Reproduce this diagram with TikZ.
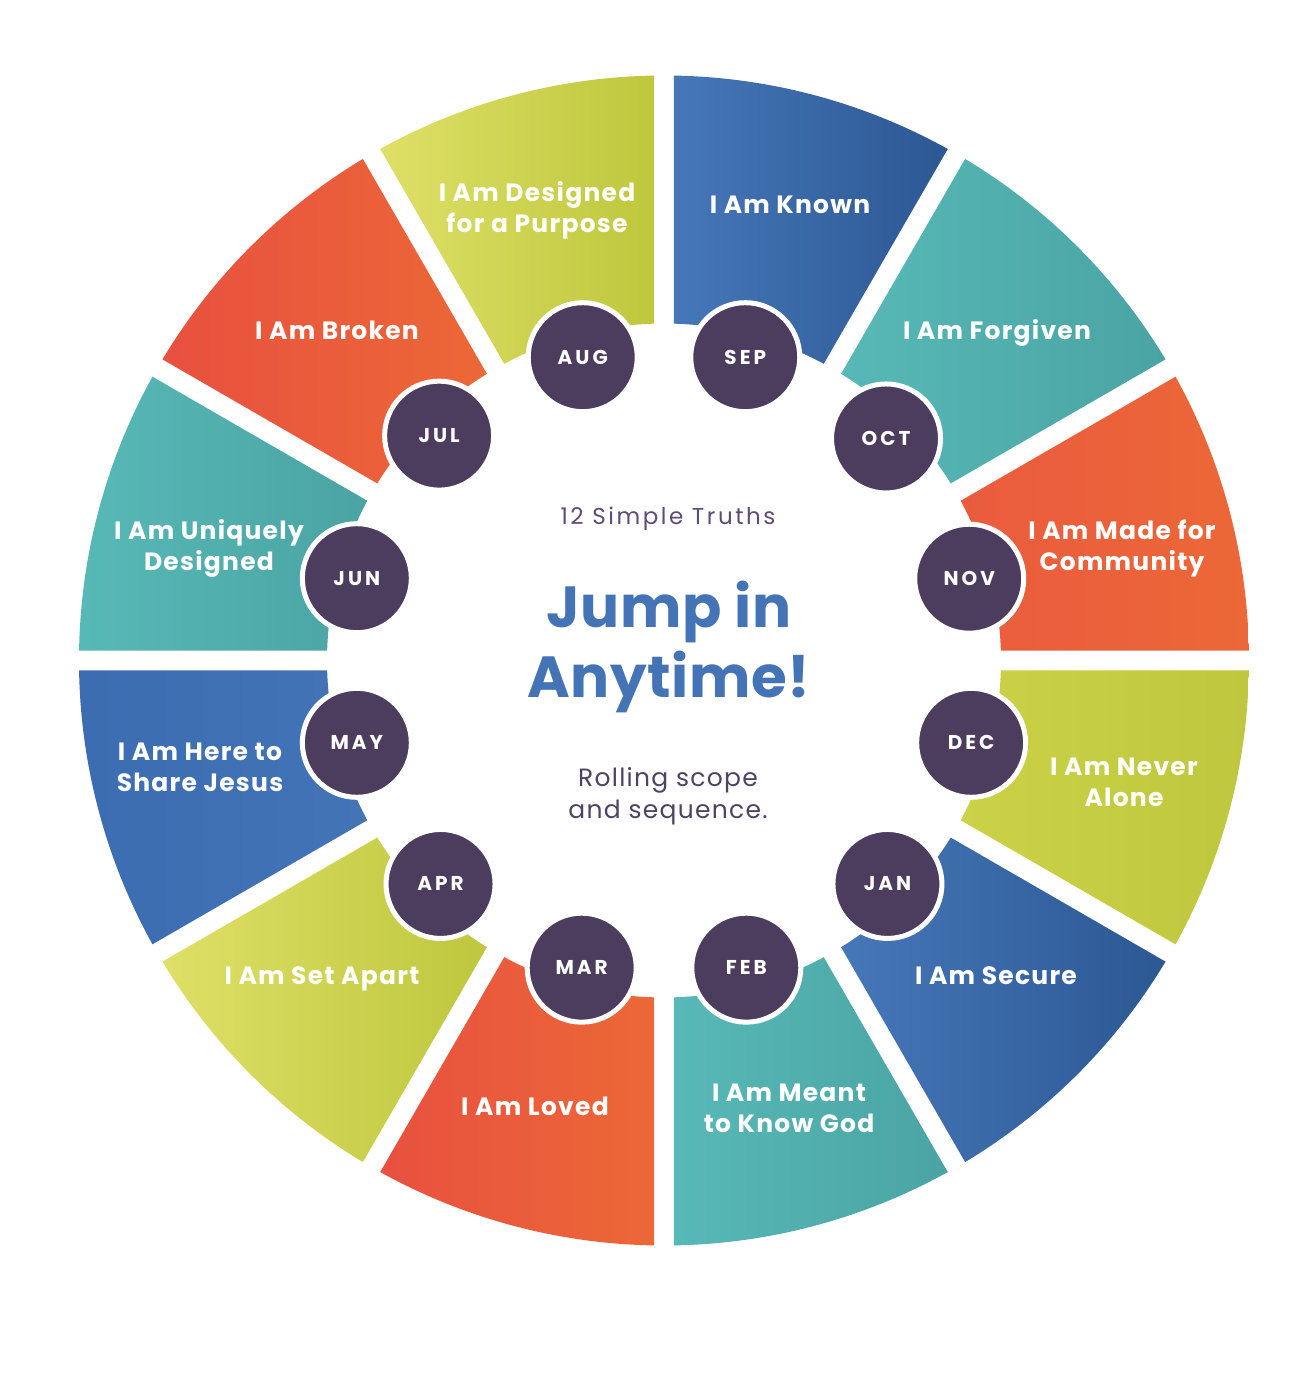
\documentclass[tikz,border=0pt]{standalone}
\usepackage{fontspec}
\newfontfamily\segfont{Poppins}[LetterSpace=5]
\newfontfamily\monfont{Poppins}[LetterSpace=15]
\newfontfamily\titlefont{Poppins}[LetterSpace=1]
\newfontfamily\truthfont{Poppins}[LetterSpace=11]
\newfontfamily\rollfont{Poppins}[LetterSpace=5]
\definecolor{monthc}{HTML}{4C3D5F}
\definecolor{titleblue}{HTML}{4474B6}
\definecolor{truthc}{HTML}{5E4B7A}
\definecolor{rollc}{HTML}{504262}
\definecolor{blueL}{HTML}{4677B9}
\definecolor{blueR}{HTML}{2C5893}
\definecolor{blueM}{HTML}{3C6CB1}
\definecolor{blueN}{HTML}{4274B6}
\definecolor{tealL}{HTML}{57B9B7}
\definecolor{tealR}{HTML}{4AA4A3}
\definecolor{orL}{HTML}{E8503F}
\definecolor{orR}{HTML}{EC6837}
\definecolor{orN}{HTML}{EA5B3E}
\definecolor{limeL}{HTML}{DEE067}
\definecolor{limeR}{HTML}{BEC73D}
\definecolor{limeM}{HTML}{CBD247}
\newcommand\wheelseg[3]{%
  \pgfmathsetmacro\aA{#1+0.979}%
  \pgfmathsetmacro\aB{#1+30-0.979}%
  \pgfmathsetmacro\aC{#1+30-1.70}%
  \pgfmathsetmacro\aD{#1+1.70}%
  \path[left color=#2, right color=#3] (\aD:337) -- (\aA:585)
    arc[start angle=\aA, end angle=\aB, radius=585] -- (\aC:337)
    arc[start angle=\aC, end angle=\aD, radius=337] -- cycle;
}
\begin{document}
\begin{tikzpicture}[x=1pt,y=1pt,
  month/.style={circle, fill=monthc, draw=white, line width=5pt,
    minimum size=109pt, inner sep=0pt, text=white,
    font=\monfont\bfseries\fontsize{20}{20}\selectfont},
  seglabel/.style={anchor=base, text=white, inner sep=0pt,
    font=\segfont\bfseries\fontsize{25}{31}\selectfont}]
\useasboundingbox (-664,-723.5) rectangle (648,660.5);
% segments
\wheelseg{60}{blueL}{blueR}
\wheelseg{30}{tealL}{tealR}
\wheelseg{0}{orN}{orR}
\wheelseg{-30}{limeM}{limeR}
\wheelseg{-60}{blueL}{blueR}
\wheelseg{-90}{tealL}{tealR}
\wheelseg{-120}{orL}{orR}
\wheelseg{-150}{limeL}{limeR}
\wheelseg{180}{blueM}{blueN}
\wheelseg{150}{tealL}{tealR}
\wheelseg{120}{orL}{orR}
\wheelseg{90}{limeL}{limeR}
% month circles
\node[month] (sep) at (75:314) {SEP};
\node[month] (oct) at (45:314) {OCT};
\node[month] (nov) at (15:316) {NOV};
\node[month] (dec) at (-15:318) {DEC};
\node[month] (jan) at (-45:316) {JAN};
\node[month] (feb) at (-75:318) {FEB};
\node[month] (mar) at (-105:318) {MAR};
\node[month] (apr) at (-135:316) {APR};
\node[month] (may) at (-165:318) {MAY};
\node[month] (jun) at (165:318) {JUN};
\node[month] (jul) at (135:318) {JUL};
\node[month] (aug) at (105:314) {AUG};
% segment labels
\node[seglabel] (tsep) at (126,446.5) {I Am Known};
\node[seglabel] (taug) at (-127,458.5) {\begin{tabular}[t]{@{}c@{}}I Am Designed\\for a Purpose\end{tabular}};
\node[seglabel] (toct) at (333,320.5) {I Am Forgiven};
\node[seglabel] (tjul) at (-327,320.5) {I Am Broken};
\node[seglabel] (tnov) at (458,120.5) {\begin{tabular}[t]{@{}c@{}}I Am Made for\\Community\end{tabular}};
\node[seglabel] (tjun) at (-455,120.5) {\begin{tabular}[t]{@{}c@{}}I Am Uniquely\\Designed\end{tabular}};
\node[seglabel] (tmay) at (-464,-99.5) {\begin{tabular}[t]{@{}c@{}}I Am Here to\\Share Jesus\end{tabular}};
\node[seglabel] (tdec) at (460,-114.5) {\begin{tabular}[t]{@{}c@{}}I Am Never\\Alone\end{tabular}};
\node[seglabel] (tjan) at (332,-323.5) {I Am Secure};
\node[seglabel] (tapr) at (-342,-323.5) {I Am Set Apart};
\node[seglabel] (tfeb) at (125,-441) {\begin{tabular}[t]{@{}c@{}}I Am Meant\\to Know God\end{tabular}};
\node[seglabel] (tmar) at (-129,-454.5) {I Am Loved};
% centre texts
\node[anchor=base, text=truthc, inner sep=0pt, font=\truthfont\fontsize{23}{23}\selectfont] (truths) at (4,135.5) {12 Simple Truths};
\node[anchor=base, text=titleblue, inner sep=0pt, font=\titlefont\bfseries\fontsize{58}{70}\selectfont] (jump) at (5,33.5) {Jump in};
\node[anchor=base, text=titleblue, inner sep=0pt, font=\titlefont\bfseries\fontsize{58}{70}\selectfont] (anytime) at (5,-36.5) {Anytime!};
\node[anchor=base, text=rollc, inner sep=0pt, font=\rollfont\fontsize{25}{32}\selectfont] (rolling) at (4,-125.5) {\begin{tabular}[t]{@{}c@{}}Rolling scope\\and sequence.\end{tabular}};
\end{tikzpicture}
\end{document}
